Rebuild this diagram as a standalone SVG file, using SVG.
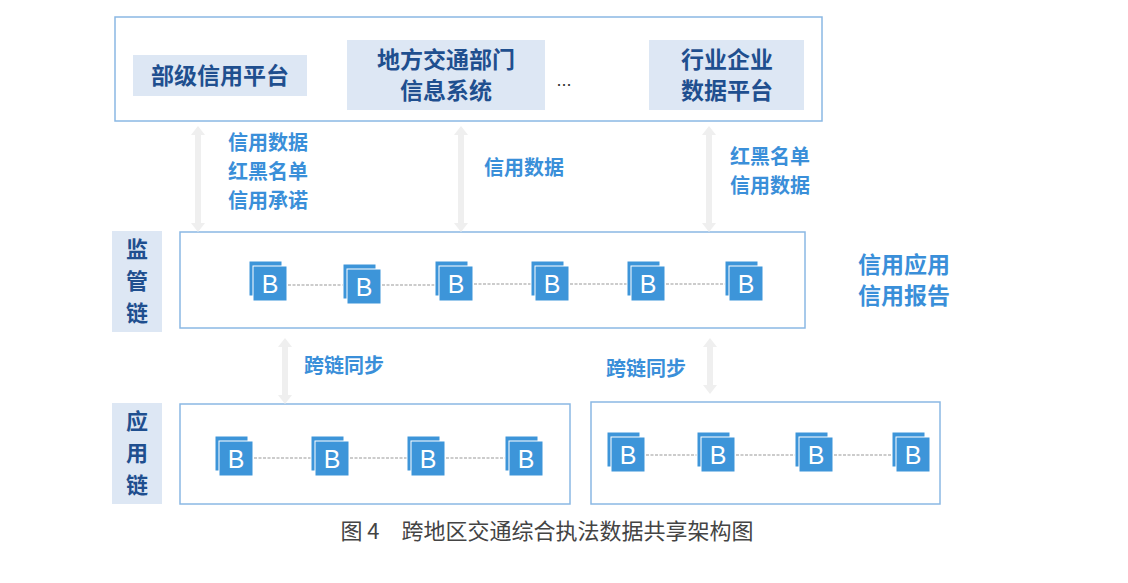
<svg xmlns="http://www.w3.org/2000/svg" width="1128" height="583" viewBox="0 0 1128 583">
<style>
.frame{fill:#fff;stroke:#8ab8e4;stroke-width:1.5}
.pl{fill:#dde7f4}
.pt{font-family:"Noto Sans CJK SC",sans-serif;font-weight:bold;font-size:23px;fill:#1f4f8f;text-anchor:middle}
.lt{font-family:"Noto Sans CJK SC",sans-serif;font-weight:bold;font-size:22px;fill:#1f4f8f;text-anchor:middle}
.bt{font-family:"Noto Sans CJK SC",sans-serif;font-weight:bold;font-size:20px;fill:#3a8fd9}
.big{font-family:"Noto Sans CJK SC",sans-serif;font-weight:bold;font-size:23px;fill:#3a8fd9}
.arr{fill:#efefef}
.lnk{stroke:#999;stroke-width:1.2;stroke-dasharray:3 1.5}
.bb{fill:#3d95d9;stroke:#fff;stroke-width:1}
.bl{font-family:"Liberation Sans",sans-serif;font-size:25px;fill:#fff;text-anchor:middle}
.cap{font-family:"Noto Sans CJK SC",sans-serif;font-size:22px;fill:#444;text-anchor:middle}
</style>
<defs>
<g id="B"><rect class="bb" x="-4" y="-5" width="33" height="35"/><rect class="bb" x="0" y="0" width="34" height="35"/><text class="bl" x="17" y="27">B</text></g>
<path id="arr" d="M0,0 l-7,9 h4 v88 h-4 l7,9 l7,-9 h-4 v-88 h4 z"/>
</defs>
<g id="top"><rect class="frame" x="115" y="17" width="707" height="104"/>
<rect class="pl" x="133" y="55" width="174" height="41"/><text class="pt" x="220" y="84">部级信用平台</text>
<rect class="pl" x="347" y="40" width="198" height="70"/><text class="pt" x="446" y="68">地方交通部门</text><text class="pt" x="446" y="99">信息系统</text>
<text x="564" y="86" font-family="Liberation Sans,sans-serif" font-size="18" fill="#333" text-anchor="middle">...</text>
<rect class="pl" x="649" y="40" width="155" height="70"/><text class="pt" x="727" y="68">行业企业</text><text class="pt" x="727" y="99">数据平台</text>
</g>
<g id="supervise"><rect class="pl" x="112" y="231" width="50" height="101"/><text class="lt" x="137" y="257">监</text><text class="lt" x="137" y="289">管</text><text class="lt" x="137" y="321">链</text>
<rect class="frame" x="180" y="232" width="625" height="96"/>
</g>
<g id="app"><rect class="pl" x="112" y="403" width="50" height="101"/><text class="lt" x="137" y="429">应</text><text class="lt" x="137" y="461">用</text><text class="lt" x="137" y="493">链</text>
<rect class="frame" x="180" y="404" width="390" height="100"/>
<rect class="frame" x="591" y="402" width="349" height="102"/>
</g>
<g id="connectors">
<use href="#arr" class="arr" x="198" y="126"/>
<use href="#arr" class="arr" x="461" y="126"/>
<use href="#arr" class="arr" x="709" y="126"/>
<path class="arr" d="M285,338 l-7,9 h4 v48 h-4 l7,9 l7,-9 h-4 v-48 h4 z"/>
<path class="arr" d="M710,338 l-7,9 h4 v38 h-4 l7,9 l7,-9 h-4 v-38 h4 z"/>
<line class="lnk" x1="288" y1="285" x2="343" y2="285"/>
<line class="lnk" x1="382" y1="285" x2="435" y2="285"/>
<line class="lnk" x1="474" y1="284" x2="531" y2="284"/>
<line class="lnk" x1="570" y1="284" x2="627" y2="284"/>
<line class="lnk" x1="666" y1="284" x2="725" y2="284"/>
<line class="lnk" x1="254" y1="458" x2="311" y2="458"/>
<line class="lnk" x1="350" y1="458" x2="407" y2="458"/>
<line class="lnk" x1="446" y1="458" x2="505" y2="458"/>
<line class="lnk" x1="646" y1="455" x2="697" y2="455"/>
<line class="lnk" x1="736" y1="455" x2="795" y2="455"/>
<line class="lnk" x1="834" y1="455" x2="892" y2="455"/>
</g>
<g id="nodesB">
<use href="#B" x="253" y="266"/><use href="#B" x="347" y="269"/><use href="#B" x="439" y="266"/><use href="#B" x="535" y="266"/><use href="#B" x="631" y="266"/><use href="#B" x="729" y="266"/>
<use href="#B" x="219" y="441"/><use href="#B" x="315" y="441"/><use href="#B" x="411" y="441"/><use href="#B" x="509" y="441"/>
<use href="#B" x="611" y="437"/><use href="#B" x="701" y="437"/><use href="#B" x="799" y="437"/><use href="#B" x="896" y="437"/>
</g>
<g id="labels">
<text class="bt" x="228" y="150">信用数据</text><text class="bt" x="228" y="179">红黑名单</text><text class="bt" x="228" y="208">信用承诺</text>
<text class="bt" x="484" y="175">信用数据</text>
<text class="bt" x="730" y="164">红黑名单</text><text class="bt" x="730" y="193">信用数据</text>
<text class="big" x="858" y="273">信用应用</text><text class="big" x="858" y="304">信用报告</text>
<text class="bt" x="304" y="373">跨链同步</text>
<text class="bt" x="606" y="376">跨链同步</text>
</g>
<text class="cap" x="547" y="539">图 4　跨地区交通综合执法数据共享架构图</text>
</svg>
